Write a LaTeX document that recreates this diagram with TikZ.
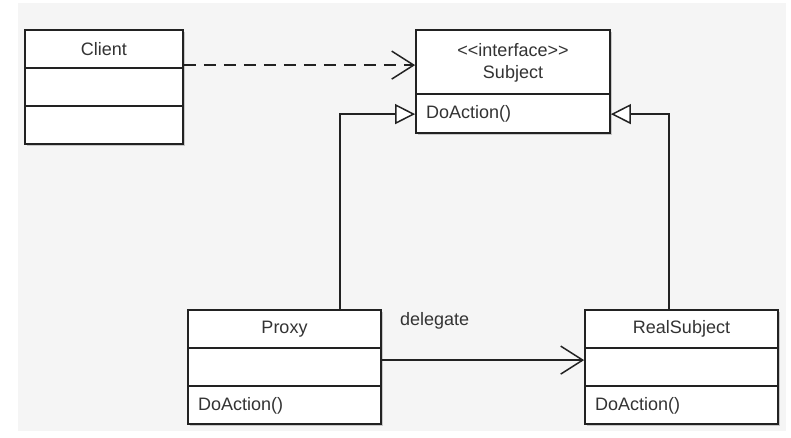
\documentclass[tikz,border=0pt]{standalone}
\usepackage{fontspec}
\setmainfont{Liberation Sans}
\usetikzlibrary{arrows.meta,shadows,calc}
\definecolor{bggrey}{HTML}{F5F5F5}
\definecolor{ink}{HTML}{222222}
\definecolor{txt}{HTML}{333333}
\tikzset{
  classbox/.style={draw=ink, line width=1.8pt, fill=white, inner sep=0pt,
    drop shadow={shadow xshift=1.5pt, shadow yshift=-1.5pt, fill=black, opacity=0.18}},
  divider/.style={draw=ink, line width=1.5pt},
  label/.style={font=\fontsize{18}{21}\selectfont, text=txt, inner sep=0pt},
  conn/.style={draw=ink, line width=1.5pt},
  openarrow/.style={conn, -{Straight Barb[length=22pt, width=28pt, line width=1.5pt]}},
  inherit/.style={conn, -{Triangle[open, length=20pt, width=20pt, fill=white, line width=1.5pt]}},
}
\begin{document}
\begin{tikzpicture}[x=1pt, y=-1pt]
\useasboundingbox (0,0) rectangle (791,437);
\fill[bggrey] (18,3) rectangle (786,431);

% Client
\node[classbox, minimum width=158pt, minimum height=114pt] (client) at (104,87) {};
\draw[divider] (25,68) -- (183,68);
\draw[divider] (25,106) -- (183,106);
\node[label] (clientname) at (104,49) {Client};

% Subject
\node[classbox, minimum width=194pt, minimum height=103pt] (subject) at (513,81.5) {};
\draw[divider] (416,94) -- (610,94);
\node[label] (stereo) at (513,50) {<{}<interface>{}>};
\node[label] (subjectname) at (513,74) {Subject};
\node[label, anchor=west] (subjectop) at (426,114) {DoAction()};

% Proxy
\node[classbox, minimum width=193pt, minimum height=114pt] (proxy) at (284.5,367) {};
\draw[divider] (188,348) -- (381,348);
\draw[divider] (188,386) -- (381,386);
\node[label] (proxyname) at (284.5,329) {Proxy};
\node[label, anchor=west] (proxyop) at (198,406) {DoAction()};

% RealSubject
\node[classbox, minimum width=193pt, minimum height=114pt] (real) at (681.5,367) {};
\draw[divider] (585,348) -- (778,348);
\draw[divider] (585,386) -- (778,386);
\node[label] (realname) at (681.5,329) {RealSubject};
\node[label, anchor=west] (realop) at (595,406) {DoAction()};

% Connectors
\draw[openarrow, dash pattern=on 12pt off 8pt]
  ([yshift=-36pt]client.north east) -- ([yshift=-36pt]subject.north west);
\draw[inherit] ([xshift=55.5pt]proxy.north) |- ([yshift=-85pt]subject.north west);
\draw[inherit] ([xshift=-12.5pt]real.north) |- ([yshift=-85pt]subject.north east);
\draw[openarrow] ([yshift=-51pt]proxy.north east) -- ([yshift=-51pt]real.north west);
\node[label, anchor=west] (delegate) at (400,321) {delegate};
\end{tikzpicture}
\end{document}
